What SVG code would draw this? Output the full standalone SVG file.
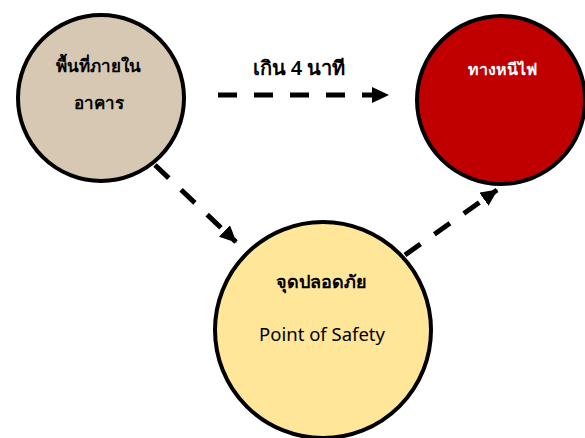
<svg xmlns="http://www.w3.org/2000/svg" width="585" height="438" viewBox="0 0 585 438">
<style>
.node{stroke:#000;stroke-width:4}
.t{font-family:"Noto Sans","DejaVu Sans",sans-serif;font-size:17px;text-anchor:middle;fill:#000}
.b{font-weight:bold}
.edge{stroke:#000;stroke-width:5;fill:none;stroke-dasharray:19 17}
</style>
<defs>
<marker id="ah" markerUnits="userSpaceOnUse" markerWidth="18" markerHeight="16" refX="16" refY="8" orient="auto">
<path d="M0,0 L17,8 L0,16 Z" fill="#000"/>
</marker>
</defs>
<rect width="585" height="438" fill="#fff"/>
<g id="connectors">
<line class="edge" x1="218" y1="95" x2="388" y2="95" marker-end="url(#ah)"/>
<line class="edge" x1="155" y1="165" x2="236" y2="242" marker-end="url(#ah)"/>
<line class="edge" x1="405" y1="255" x2="497" y2="190" marker-end="url(#ah)"/>
<text class="t" x="299" y="75" style="font-size:20px;font-weight:600">เกิน 4 นาที</text>
</g>
<g id="node-inside">
<circle class="node" cx="101" cy="98" r="83" fill="#D6C8B2"/>
<text class="t b" x="98" y="72">พื้นที่ภายใน</text>
<text class="t b" x="99" y="109">อาคาร</text>
</g>
<g id="node-exit">
<circle class="node" cx="501" cy="100" r="84" fill="#C00000"/>
<text class="t b" x="502" y="75" style="fill:#fff;font-size:16px">ทางหนีไฟ</text>
</g>
<g id="node-safe">
<circle class="node" cx="323" cy="330" r="108" fill="#FFE699"/>
<text class="t b" x="321" y="288" style="font-size:18px">จุดปลอดภัย</text>
<text class="t" x="322" y="341" style="font-size:18.5px">Point of Safety</text>
</g>
</svg>
